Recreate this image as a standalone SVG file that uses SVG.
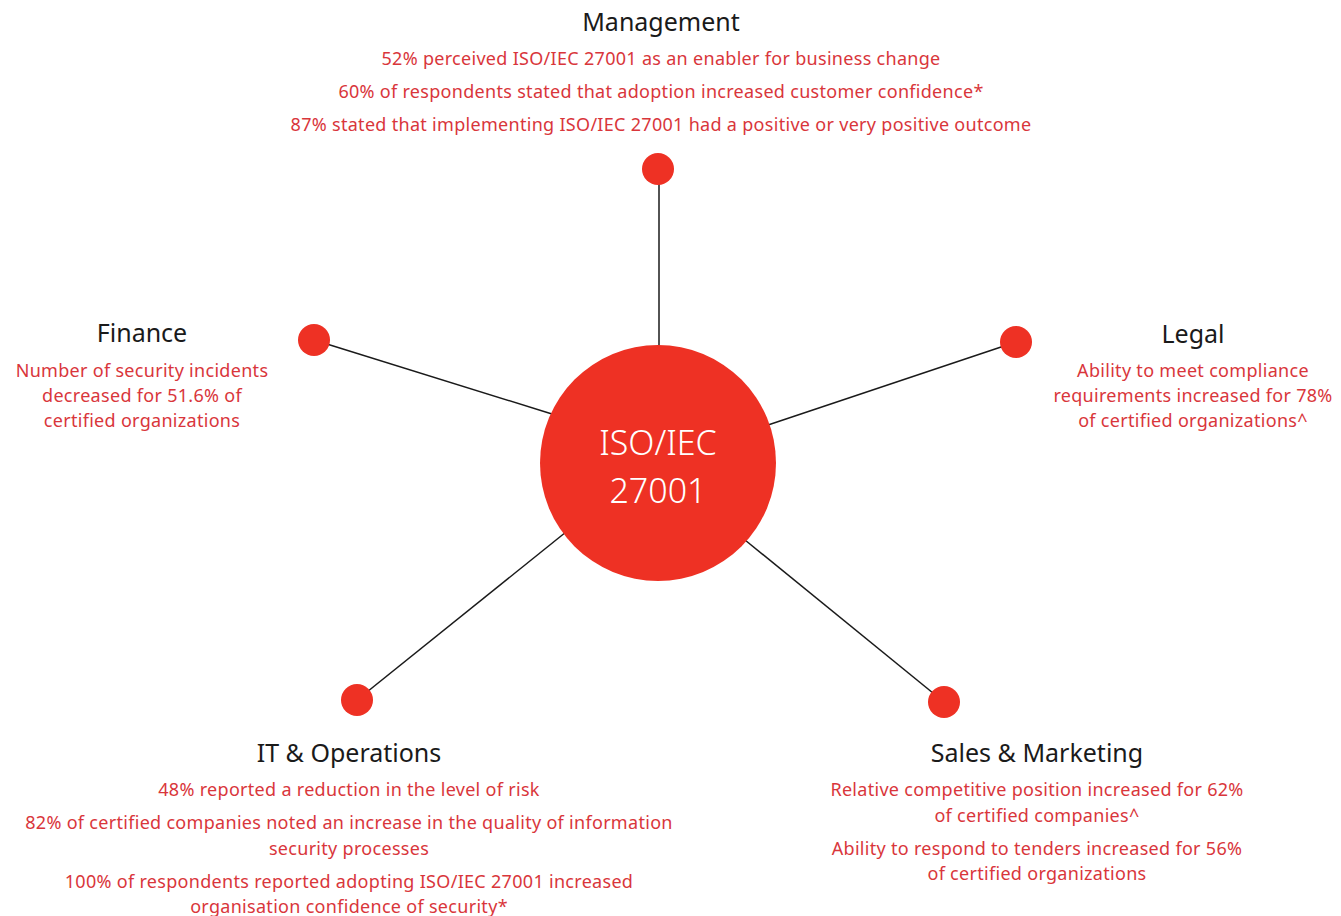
<svg xmlns="http://www.w3.org/2000/svg" width="1341" height="916" viewBox="0 0 1341 916">
<style>
.t{font-family:"Noto Sans","Open Sans",sans-serif;font-size:25px;fill:#1a1a1a;text-anchor:middle}
.r{font-family:"Noto Sans","Open Sans",sans-serif;font-size:18px;fill:#d9363b;text-anchor:middle;letter-spacing:0.3px}
.dot{fill:#ee3124}
.c{font-family:"Noto Sans","Open Sans",sans-serif;font-size:34px;fill:#ffffff;text-anchor:middle;font-weight:300}
</style>
<rect width="1341" height="916" fill="#ffffff"/>
<g id="connectors" stroke="#1a1a1a" stroke-width="1.5">
<line x1="659" y1="169" x2="659" y2="350"/>
<line x1="314" y1="340" x2="552" y2="414"/>
<line x1="1016" y1="342" x2="768" y2="425"/>
<line x1="357" y1="700" x2="566" y2="532"/>
<line x1="944" y1="702" x2="745" y2="540"/>
</g>
<g id="center">
<circle cx="658" cy="463" r="118" class="dot"/>
<text class="c" x="658" y="455">ISO/IEC</text>
<text class="c" x="658" y="503">27001</text>
</g>
<g id="management">
<circle cx="658" cy="169" r="16" class="dot"/>
<text class="t" x="661" y="31">Management</text>
<text class="r" x="661" y="65">52% perceived ISO/IEC 27001 as an enabler for business change</text>
<text class="r" x="661" y="98">60% of respondents stated that adoption increased customer confidence*</text>
<text class="r" x="661" y="131">87% stated that implementing ISO/IEC 27001 had a positive or very positive outcome</text>
</g>
<g id="finance">
<circle cx="314" cy="340" r="16" class="dot"/>
<text class="t" x="142" y="342">Finance</text>
<text class="r" x="142" y="377">Number of security incidents</text>
<text class="r" x="142" y="402">decreased for 51.6% of</text>
<text class="r" x="142" y="427">certified organizations</text>
</g>
<g id="legal">
<circle cx="1016" cy="342" r="16" class="dot"/>
<text class="t" x="1193" y="343">Legal</text>
<text class="r" x="1193" y="377">Ability to meet compliance</text>
<text class="r" x="1193" y="402">requirements increased for 78%</text>
<text class="r" x="1193" y="427">of certified organizations^</text>
</g>
<g id="it-operations">
<circle cx="357" cy="700" r="16" class="dot"/>
<text class="t" x="349" y="762">IT &amp; Operations</text>
<text class="r" x="349" y="796">48% reported a reduction in the level of risk</text>
<text class="r" x="349" y="829">82% of certified companies noted an increase in the quality of information</text>
<text class="r" x="349" y="855">security processes</text>
<text class="r" x="349" y="888">100% of respondents reported adopting ISO/IEC 27001 increased</text>
<text class="r" x="349" y="913">organisation confidence of security*</text>
</g>
<g id="sales-marketing">
<circle cx="944" cy="702" r="16" class="dot"/>
<text class="t" x="1037" y="762">Sales &amp; Marketing</text>
<text class="r" x="1037" y="796">Relative competitive position increased for 62%</text>
<text class="r" x="1037" y="822">of certified companies^</text>
<text class="r" x="1037" y="855">Ability to respond to tenders increased for 56%</text>
<text class="r" x="1037" y="880">of certified organizations</text>
</g>
</svg>
